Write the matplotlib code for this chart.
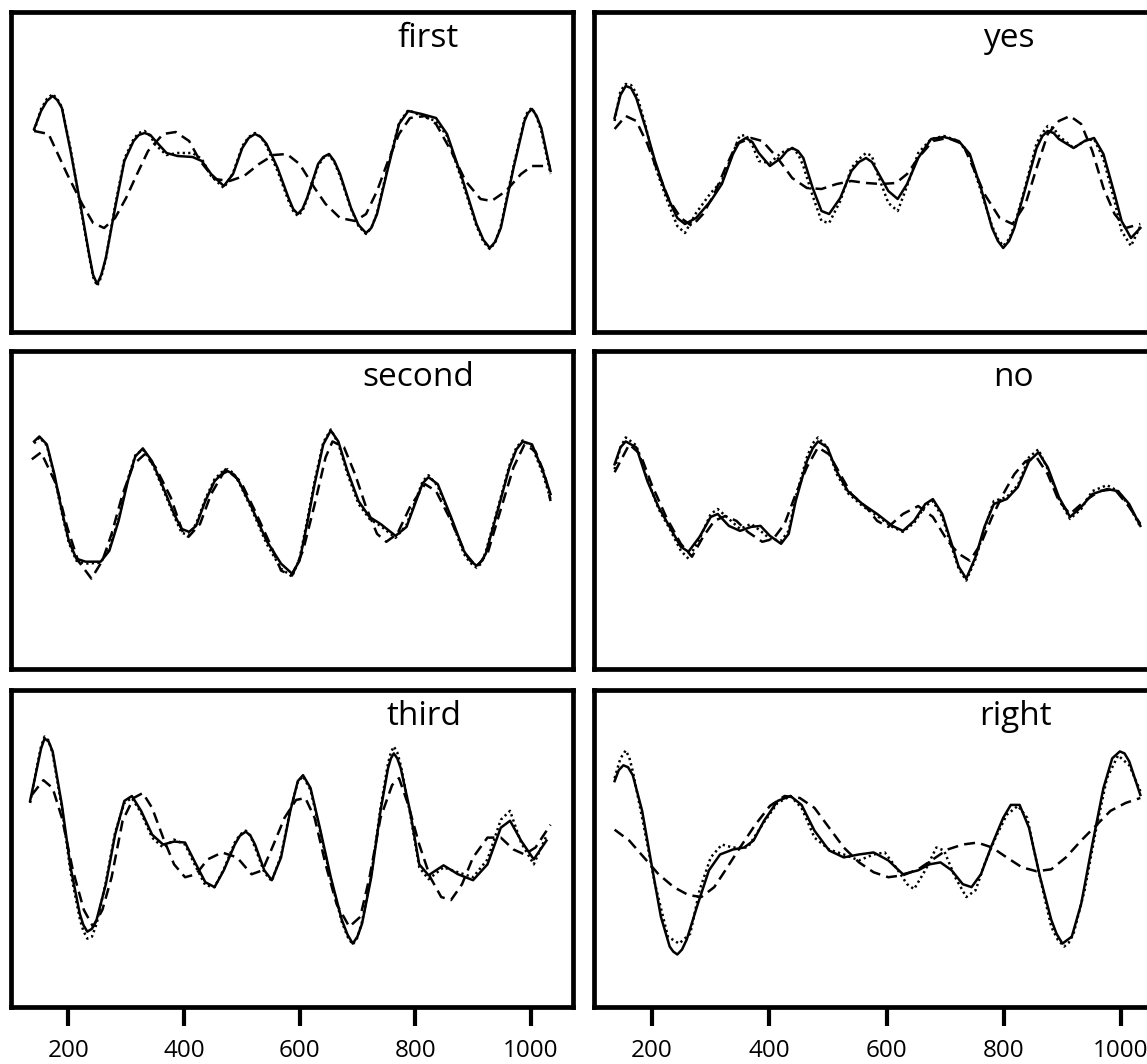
import matplotlib
matplotlib.use("Agg")
import matplotlib.pyplot as plt

# frequency-like axis, three traces per word (solid / dotted / dashed)
words = ["first", "yes", "second", "no", "third", "right"]
xticks = [200, 400, 600, 800, 1000]

first_x = [141, 153, 163, 173, 181, 189, 204, 220, 236, 243, 250, 257, 265, 281, 297, 313, 322, 332, 342, 351,
           370, 389, 415, 431, 447, 469, 485, 501, 512, 523, 533, 543, 562, 581, 589, 597, 605, 613, 632, 641,
           651, 660, 670, 689, 702, 715, 724, 734, 753, 772, 788, 811, 836, 855, 881, 906, 918, 929, 938, 948,
           970, 989, 995, 1002, 1010, 1018, 1034]
first_solid = [202, 220, 230, 235, 231, 223, 180, 130, 77, 56, 47, 56, 73, 123, 170, 190, 196, 198, 196, 190,
               178, 175, 174, 170, 157, 145, 157, 183, 193, 197, 194, 187, 163, 133, 122, 117, 122, 133, 167, 174,
               177, 170, 157, 123, 106, 98, 103, 117, 163, 207, 220, 217, 213, 197, 153, 107, 91, 83, 89, 103,
               163, 210, 218, 222, 215, 203, 160]
first_dotted = [200, 222, 232, 237, 232, 224, 182, 128, 75, 54, 45, 54, 72, 125, 172, 192, 198, 200, 195, 186,
                176, 178, 178, 172, 155, 143, 158, 185, 194, 198, 194, 185, 160, 130, 120, 115, 120, 132, 165, 173,
                176, 169, 155, 122, 105, 97, 103, 118, 165, 208, 221, 215, 210, 195, 150, 105, 89, 82, 88, 105,
                165, 212, 220, 223, 214, 200, 157]
first_dash_x = [141, 166, 198, 224, 243, 262, 281, 300, 319, 338, 364, 386, 409, 428, 453, 479, 504, 530, 555, 578,
                600, 626, 645, 670, 696, 715, 734, 753, 772, 791, 817, 836, 862, 887, 913, 932, 957, 983, 1002, 1034]
first_dashed = [200, 197, 157, 127, 108, 103, 113, 133, 157, 180, 197, 199, 190, 170, 152, 150, 155, 167, 176, 177,
                167, 143, 127, 113, 110, 117, 140, 170, 197, 213, 215, 207, 180, 150, 132, 130, 140, 157, 165, 165]

yes_x = [136, 146, 155, 164, 173, 189, 205, 224, 243, 256, 275, 300, 319, 338, 349, 360, 371, 382, 401, 420,
         430, 439, 449, 458, 474, 489, 502, 521, 540, 553, 565, 575, 584, 603, 619, 635, 654, 676, 698, 723,
         742, 761, 780, 790, 799, 809, 818, 837, 856, 866, 875, 885, 894, 919, 938, 954, 970, 989, 1001, 1017,
         1033]
yes_solid = [213, 236, 245, 243, 233, 203, 170, 137, 113, 107, 113, 130, 147, 177, 189, 193, 189, 178, 165, 173,
             180, 183, 180, 173, 143, 120, 117, 133, 160, 169, 173, 169, 160, 140, 132, 147, 173, 192, 194, 190,
             177, 143, 103, 90, 83, 90, 103, 143, 183, 195, 200, 198, 192, 183, 190, 193, 177, 137, 110, 93,
             103]
yes_dotted = [210, 240, 247, 246, 238, 205, 165, 133, 105, 98, 118, 138, 150, 178, 195, 196, 186, 170, 168, 178,
              181, 183, 177, 165, 135, 110, 108, 130, 163, 172, 178, 175, 158, 128, 120, 145, 178, 192, 195, 190,
              175, 140, 105, 92, 85, 92, 105, 145, 188, 198, 205, 203, 195, 183, 190, 192, 172, 130, 100, 85,
              105]
yes_dash_x = [136, 155, 173, 192, 211, 230, 249, 268, 287, 306, 325, 344, 369, 388, 414, 439, 464, 489, 515, 540,
              565, 591, 616, 635, 654, 679, 704, 730, 748, 767, 793, 815, 837, 856, 875, 894, 913, 932, 951, 970,
              989, 1008, 1033]
yes_dashed = [202, 215, 210, 187, 157, 130, 113, 105, 117, 137, 163, 187, 193, 190, 173, 153, 143, 142, 147, 150,
              148, 147, 148, 157, 173, 190, 193, 187, 163, 137, 113, 107, 127, 163, 197, 210, 215, 207, 180, 143,
              117, 103, 107]

second_x = [141, 150, 163, 176, 189, 201, 214, 230, 256, 271, 287, 303, 316, 329, 345, 364, 383, 396, 409, 421,
            437, 453, 465, 476, 486, 495, 517, 543, 568, 587, 600, 613, 626, 641, 654, 667, 683, 702, 721, 740,
            766, 785, 804, 813, 823, 839, 862, 884, 895, 906, 914, 922, 941, 963, 975, 986, 1002, 1021, 1034]
second_solid = [228, 233, 225, 195, 158, 128, 110, 107, 107, 118, 148, 188, 213, 221, 208, 182, 155, 140, 137, 143,
                168, 188, 195, 198, 195, 188, 162, 128, 105, 95, 108, 145, 185, 225, 239, 228, 198, 168, 152, 145,
                133, 142, 172, 186, 192, 185, 152, 118, 108, 103, 107, 115, 155, 202, 220, 228, 225, 198, 175]
second_dotted = [226, 232, 224, 193, 156, 126, 108, 105, 106, 120, 150, 190, 214, 220, 206, 180, 153, 136, 134, 145,
                 170, 190, 197, 200, 196, 187, 160, 125, 100, 92, 110, 148, 188, 227, 240, 226, 195, 165, 150, 143,
                 131, 144, 174, 188, 194, 183, 150, 115, 106, 101, 105, 117, 157, 204, 222, 229, 223, 195, 170]
second_dash_x = [137, 153, 179, 198, 217, 240, 259, 275, 294, 313, 332, 351, 377, 399, 408, 428, 447, 472, 498, 523,
                 549, 568, 587, 606, 625, 645, 657, 677, 696, 715, 734, 750, 769, 791, 817, 836, 862, 887, 906, 925,
                 944, 970, 989, 1008, 1024, 1034]
second_dashed = [210, 217, 185, 142, 108, 90, 108, 135, 175, 205, 215, 202, 172, 135, 132, 145, 175, 200, 188, 158,
                 125, 98, 93, 118, 162, 212, 228, 222, 195, 162, 135, 127, 135, 162, 185, 178, 148, 115, 102, 115,
                 152, 202, 225, 218, 195, 168]

no_x = [136, 146, 155, 173, 192, 211, 230, 249, 262, 281, 300, 312, 331, 350, 369, 385, 401, 420, 433, 445,
        464, 474, 483, 499, 515, 534, 559, 584, 610, 628, 647, 666, 679, 695, 711, 723, 736, 752, 767, 783,
        805, 824, 843, 859, 875, 894, 913, 932, 951, 976, 995, 1014, 1033]
no_solid = [205, 222, 228, 222, 188, 162, 142, 122, 117, 132, 152, 155, 143, 138, 142, 143, 133, 125, 135, 168,
            208, 221, 228, 222, 198, 178, 165, 155, 143, 138, 148, 165, 170, 155, 125, 102, 90, 112, 142, 165,
            170, 182, 208, 217, 202, 172, 152, 162, 175, 180, 178, 165, 143]
no_dotted = [200, 222, 232, 224, 190, 160, 140, 118, 110, 130, 155, 160, 150, 140, 145, 138, 130, 128, 138, 172,
             212, 226, 232, 222, 195, 176, 163, 153, 142, 137, 146, 163, 168, 152, 122, 100, 88, 110, 140, 168,
             172, 184, 212, 220, 200, 170, 150, 160, 178, 184, 178, 163, 142]
no_dash_x = [136, 161, 180, 199, 224, 249, 268, 287, 306, 325, 344, 363, 388, 407, 426, 445, 464, 483, 502, 521,
             540, 565, 584, 603, 628, 654, 679, 704, 723, 742, 761, 780, 799, 818, 837, 856, 875, 894, 913, 938,
             963, 989, 1014, 1033]
no_dashed = [197, 225, 215, 185, 152, 125, 112, 132, 148, 153, 148, 137, 127, 130, 145, 175, 202, 222, 215, 195,
             175, 162, 148, 142, 155, 163, 152, 128, 115, 108, 125, 152, 175, 195, 208, 212, 195, 168, 155, 168,
             178, 180, 162, 145]

third_x = [134, 147, 153, 159, 166, 173, 189, 204, 220, 226, 233, 241, 249, 265, 281, 297, 310, 326, 345, 364,
           383, 402, 421, 437, 453, 469, 488, 497, 507, 515, 523, 539, 552, 568, 584, 597, 606, 619, 635, 654,
           673, 683, 692, 700, 708, 724, 740, 753, 758, 763, 769, 775, 791, 807, 823, 849, 874, 900, 925, 948,
           964, 983, 1005, 1027]
third_solid = [207, 243, 260, 270, 267, 257, 203, 140, 93, 82, 75, 78, 87, 123, 173, 207, 212, 197, 173, 163,
               166, 165, 143, 125, 120, 137, 163, 172, 176, 172, 163, 137, 127, 150, 197, 227, 233, 220, 180, 130,
               87, 72, 63, 70, 83, 130, 197, 240, 250, 255, 250, 240, 197, 143, 132, 142, 133, 127, 143, 180,
               187, 167, 148, 167]
third_dotted = [205, 245, 262, 272, 268, 255, 200, 135, 88, 76, 68, 70, 83, 125, 175, 205, 210, 195, 170, 160,
                168, 163, 140, 122, 120, 138, 165, 173, 177, 172, 160, 135, 126, 152, 198, 226, 232, 218, 178, 128,
                85, 70, 62, 69, 85, 132, 200, 245, 256, 262, 256, 243, 195, 140, 128, 140, 135, 130, 148, 188,
                197, 165, 143, 172]
third_dash_x = [137, 157, 173, 189, 208, 227, 243, 259, 275, 294, 313, 329, 345, 364, 383, 402, 421, 441, 466, 492,
                517, 536, 555, 574, 594, 610, 626, 645, 664, 686, 705, 721, 740, 760, 772, 788, 807, 826, 845, 862,
                881, 900, 925, 948, 970, 989, 1008, 1034]
third_dashed = [213, 228, 220, 190, 137, 97, 80, 97, 130, 187, 210, 215, 200, 170, 143, 130, 133, 148, 155, 150,
                133, 137, 163, 190, 208, 210, 190, 143, 103, 80, 90, 130, 190, 223, 230, 203, 163, 130, 110, 107,
                123, 150, 170, 170, 158, 153, 160, 183]

right_x = [136, 143, 151, 159, 167, 183, 199, 215, 230, 236, 243, 251, 259, 278, 297, 316, 338, 357, 373, 391,
           414, 436, 455, 477, 502, 527, 553, 578, 603, 628, 654, 673, 692, 711, 730, 745, 761, 780, 799, 812,
           827, 843, 862, 881, 890, 900, 916, 932, 951, 970, 985, 998, 1006, 1014, 1033]
right_solid = [227, 238, 243, 241, 233, 197, 143, 90, 60, 55, 52, 57, 67, 103, 137, 153, 158, 160, 167, 187,
               207, 212, 203, 177, 157, 150, 153, 155, 147, 133, 137, 143, 145, 137, 123, 120, 133, 163, 190, 203,
               203, 180, 130, 87, 73, 63, 70, 103, 163, 220, 250, 257, 255, 247, 213]
right_dot_x = [136, 146, 155, 161, 167, 183, 205, 227, 246, 265, 281, 300, 319, 338, 363, 388, 414, 436, 455, 477,
               502, 527, 553, 578, 597, 616, 635, 647, 666, 685, 698, 717, 736, 752, 767, 786, 805, 824, 840, 859,
               881, 892, 903, 911, 919, 938, 957, 976, 995, 1014, 1033]
right_dotted = [230, 250, 258, 251, 237, 190, 123, 70, 63, 73, 117, 150, 163, 160, 160, 183, 205, 212, 200, 170,
                158, 153, 147, 153, 155, 140, 123, 118, 137, 160, 157, 130, 110, 117, 143, 170, 193, 202, 190, 137,
                80, 67, 60, 64, 73, 117, 177, 230, 253, 243, 217]
right_dash_x = [136, 161, 186, 211, 237, 262, 284, 306, 325, 350, 376, 401, 426, 452, 477, 502, 527, 553, 578, 603,
                628, 654, 679, 704, 730, 755, 780, 805, 831, 856, 881, 906, 932, 957, 982, 1008, 1033]
right_dashed = [178, 167, 150, 133, 120, 112, 110, 120, 137, 160, 183, 202, 212, 210, 200, 180, 160, 145, 135, 130,
                132, 138, 148, 158, 163, 165, 160, 150, 140, 136, 138, 150, 167, 182, 197, 205, 210]

panels = [
    (first_x, first_solid, first_x, first_dotted, first_dash_x, first_dashed),
    (yes_x, yes_solid, yes_x, yes_dotted, yes_dash_x, yes_dashed),
    (second_x, second_solid, second_x, second_dotted, second_dash_x, second_dashed),
    (no_x, no_solid, no_x, no_dotted, no_dash_x, no_dashed),
    (third_x, third_solid, third_x, third_dotted, third_dash_x, third_dashed),
    (right_x, right_solid, right_dot_x, right_dotted, right_dash_x, right_dashed),
]

W, H = 1147, 1064
fig = plt.figure(figsize=(W / 100, H / 100), dpi=100)

# panel frames in pixels (left, top, width, height)
lefts = [11, 593.5]
width = 561.5
rows = [(12, 320), (351, 318), (690, 317)]
xlims = [(101, 1072), (100, 1058)]
title_x = [0.743, 0.74, 0.725, 0.747, 0.736, 0.752]

for i, (word, data) in enumerate(zip(words, panels)):
    r, c = divmod(i, 2)
    top, height = rows[r]
    ax = fig.add_axes([lefts[c] / W, 1 - (top + height) / H, width / W, height / H])
    xs, ys, xd, yd, xq, yq = data
    ax.plot(xq, yq, color="black", lw=1.8, linestyle=(0, (4.4, 2.5)))
    ax.plot(xd, yd, color="black", lw=1.8, linestyle=(0, (0.9, 1.3)))
    ax.plot(xs, ys, color="black", lw=1.8)
    ax.set_xlim(*xlims[c])
    ax.set_ylim(-1, 319)
    ax.set_yticks([])
    for sp in ax.spines.values():
        sp.set_linewidth(3.4)
    if r == 2:
        ax.set_xticks(xticks)
        ax.tick_params(axis="x", direction="out", length=14, width=3, labelsize=17.5, pad=9)
        for lab in ax.get_xticklabels():
            lab.set_fontfamily("Open Sans")
    else:
        ax.set_xticks([])
    ax.text(title_x[i], 0.89, word, transform=ax.transAxes, ha="center", va="baseline",
            fontsize=24, family="Open Sans")

fig.savefig("out.png", dpi=100)
